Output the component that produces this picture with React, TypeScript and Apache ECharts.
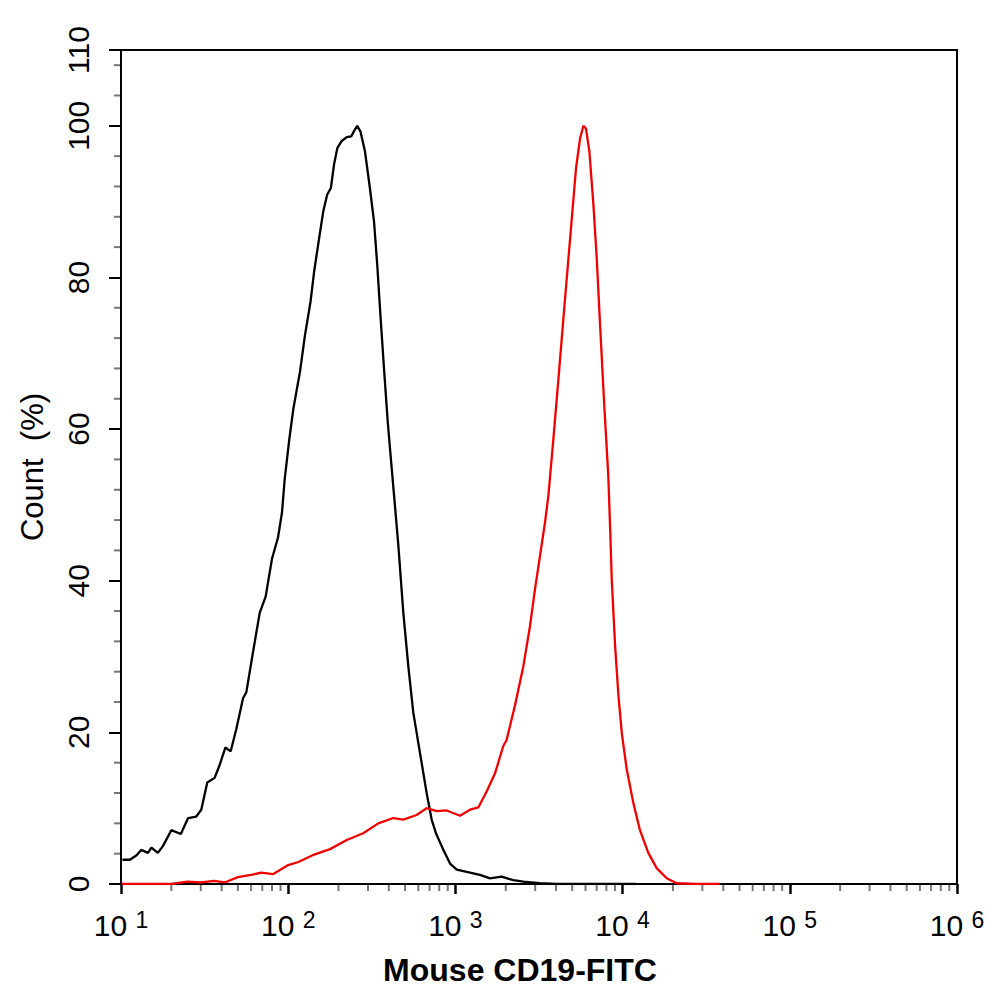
import React, { useEffect, useRef } from 'react';
import * as echarts from 'echarts';

// Isotype control (black) and Mouse CD19-FITC (red) histograms: [intensity, count %]
const blackCurve: [number, number][] = [
  [10.2, 3.2], [11.3, 3.2], [12.4, 3.8], [13.2, 4.5], [14.5, 4.1], [15.2, 4.8], [16.6, 4.1],
  [17.8, 5.0], [20.0, 7.1], [22.8, 6.6], [25.2, 8.7], [28.2, 8.9], [30.2, 9.8], [32.8, 13.4],
  [36.3, 14.0], [38.9, 15.7], [42.1, 18.0], [45.3, 17.5], [48.9, 20.4], [53.7, 24.5],
  [56.2, 25.3], [61.5, 30.5], [67.6, 35.8], [73.3, 37.9], [80.0, 42.9], [86.9, 45.7],
  [91.8, 49.0], [95.3, 53.4], [101.6, 58.7], [107.4, 62.7], [117.7, 67.6], [126, 72.4],
  [136, 76.8], [143, 80.8], [151, 84.3], [162, 88.7], [171, 90.9], [180, 91.8], [188, 94.9],
  [197, 97.1], [209, 98.0], [224, 98.5], [238, 98.6], [249, 99.4], [259, 100], [271, 99.2],
  [288, 96.6], [308, 91.8], [326, 87.4], [341, 81.6], [354, 75.9], [374, 68.0], [394, 60.9],
  [416, 54.8], [435, 49.9], [456, 44.6], [488, 35.8], [523, 28.7], [560, 22.6], [614, 17.3],
  [673, 12.0], [721, 8.5], [765, 6.7], [847, 4.5], [929, 2.7], [1019, 1.9], [1223, 1.5],
  [1403, 1.2], [1610, 0.75], [1892, 0.97], [2220, 0.5], [2548, 0.3], [3200, 0.1], [4000, 0],
  [12000, 0],
];

const redCurve: [number, number][] = [
  [10.1, 0], [20, 0], [25, 0.3], [30, 0.2], [36, 0.4], [41.7, 0.2], [50, 0.9], [60, 1.2],
  [69, 1.5], [81, 1.3], [100, 2.5], [115, 2.9], [140, 3.8], [178, 4.6], [224, 5.8],
  [281, 6.7], [346, 8.0], [425, 8.7], [488, 8.5], [586, 9.1], [673, 10.0], [773, 9.6],
  [887, 9.7], [1065, 9.0], [1223, 9.8], [1371, 10.1], [1538, 12.2], [1726, 14.6],
  [1934, 18.2], [2024, 19.0], [2269, 23.5], [2548, 28.7], [2793, 34.0], [2993, 38.9],
  [3207, 43.3], [3436, 47.7], [3598, 51.2], [3855, 58.7], [4183, 68.0], [4527, 77.2],
  [4896, 86.1], [5264, 94.4], [5564, 98.3], [5826, 100], [6045, 99.6], [6330, 96.6],
  [6690, 89.6], [7005, 82.5], [7335, 73.7], [7747, 63.6], [8210, 53.9], [8450, 46.0],
  [8610, 40.2], [9020, 31.4], [9445, 24.8], [9890, 19.9], [10590, 15.1], [11590, 10.7],
  [12700, 7.1], [14250, 4.1], [15990, 2.1], [18360, 0.75], [21040, 0.1], [27730, 0],
  [38000, 0],
];

const xMinorTicks: number[] = [
  20, 30, 40, 50, 60, 70, 80, 90,
  200, 300, 400, 500, 600, 700, 800, 900,
  2000, 3000, 4000, 5000, 6000, 7000, 8000, 9000,
  20000, 30000, 40000, 50000, 60000, 70000, 80000, 90000,
  200000, 300000, 400000, 500000, 600000, 700000, 800000, 900000,
];
const yMinorTicks: number[] = [
  4, 8, 12, 16, 24, 28, 32, 36, 44, 48, 52, 56, 64, 68, 72, 76, 84, 88, 92, 96, 104, 108,
];

const xTitle = 'Mouse CD19-FITC';
const yTitle = 'Count  (%)';
const FONT = "Arial, 'Liberation Sans', sans-serif";

export default function App() {
  const ref = useRef<HTMLDivElement>(null);
  useEffect(() => {
    if (!ref.current) return;
    const chart = echarts.init(ref.current, null, { renderer: 'svg' });
    const option: any = {
      animation: false,
      backgroundColor: '#fff',
      grid: {
        left: 121, right: 37, top: 50, bottom: 118,
        show: true, borderColor: '#000', borderWidth: 2, backgroundColor: 'transparent',
      },
      xAxis: {
        type: 'log', logBase: 10, min: 10, max: 1000000,
        axisLine: { show: true, lineStyle: { color: '#000', width: 2 } },
        axisTick: { show: true, length: 10, lineStyle: { color: '#000', width: 2.5 } },
        splitLine: { show: false },
        axisLabel: {
          margin: 24,
          formatter: (v: number) => `{b|10 }{s|${Math.round(Math.log10(v))}}`,
          rich: {
            b: { fontSize: 30, fontFamily: FONT, color: '#000' },
            s: { fontSize: 23, fontFamily: FONT, color: '#000', padding: [0, 0, 12, 0] },
          },
        },
      },
      yAxis: {
        type: 'value', min: 0, max: 110, interval: 20,
        axisLine: { show: true, lineStyle: { color: '#000', width: 2 } },
        axisTick: { show: true, length: 12, lineStyle: { color: '#000', width: 2 } },
        splitLine: { show: false },
        axisLabel: { rotate: 90, margin: 28, fontSize: 30, fontFamily: FONT, color: '#000' },
      },
      graphic: [
        {
          type: 'text', x: 32, y: 467, rotation: Math.PI / 2,
          style: {
            text: yTitle, fontSize: 31, fontFamily: FONT, fill: '#000',
            align: 'center', verticalAlign: 'middle',
          },
        },
        {
          type: 'text', x: 520, y: 970,
          style: {
            text: xTitle, fontSize: 32, fontWeight: 'bold', fontFamily: FONT, fill: '#000',
            align: 'center', verticalAlign: 'middle',
          },
        },
      ],
      series: [
        {
          type: 'line', data: blackCurve, showSymbol: false, smooth: false,
          lineStyle: { color: '#000', width: 2.3 }, z: 3,
        },
        {
          type: 'line', data: redCurve, showSymbol: false, smooth: false,
          lineStyle: { color: '#f00000', width: 2.3 }, z: 4,
        },
        {
          type: 'custom', clip: false, silent: true, z: 5,
          data: xMinorTicks.map((v) => [v, 0]),
          encode: { x: 0, y: 1 },
          renderItem: (_p: any, api: any) => {
            const pt = api.coord([api.value(0), 0]);
            return {
              type: 'line',
              shape: { x1: pt[0], y1: pt[1] + 1, x2: pt[0], y2: pt[1] + 7 },
              style: { stroke: '#777', lineWidth: 2 },
            };
          },
        },
        {
          type: 'custom', clip: false, silent: true, z: 5,
          data: yMinorTicks.map((v) => [10, v]),
          encode: { x: 0, y: 1 },
          renderItem: (_p: any, api: any) => {
            const pt = api.coord([10, api.value(1)]);
            return {
              type: 'line',
              shape: { x1: pt[0] - 1, y1: pt[1], x2: pt[0] - 7, y2: pt[1] },
              style: { stroke: '#777', lineWidth: 2 },
            };
          },
        },
      ],
    };
    chart.setOption(option);
    return () => chart.dispose();
  }, []);
  return (
    <div
      ref={ref}
      style={{ position: 'absolute', left: 0, top: 0, width: 994, height: 1002, background: '#fff' }}
    />
  );
}
